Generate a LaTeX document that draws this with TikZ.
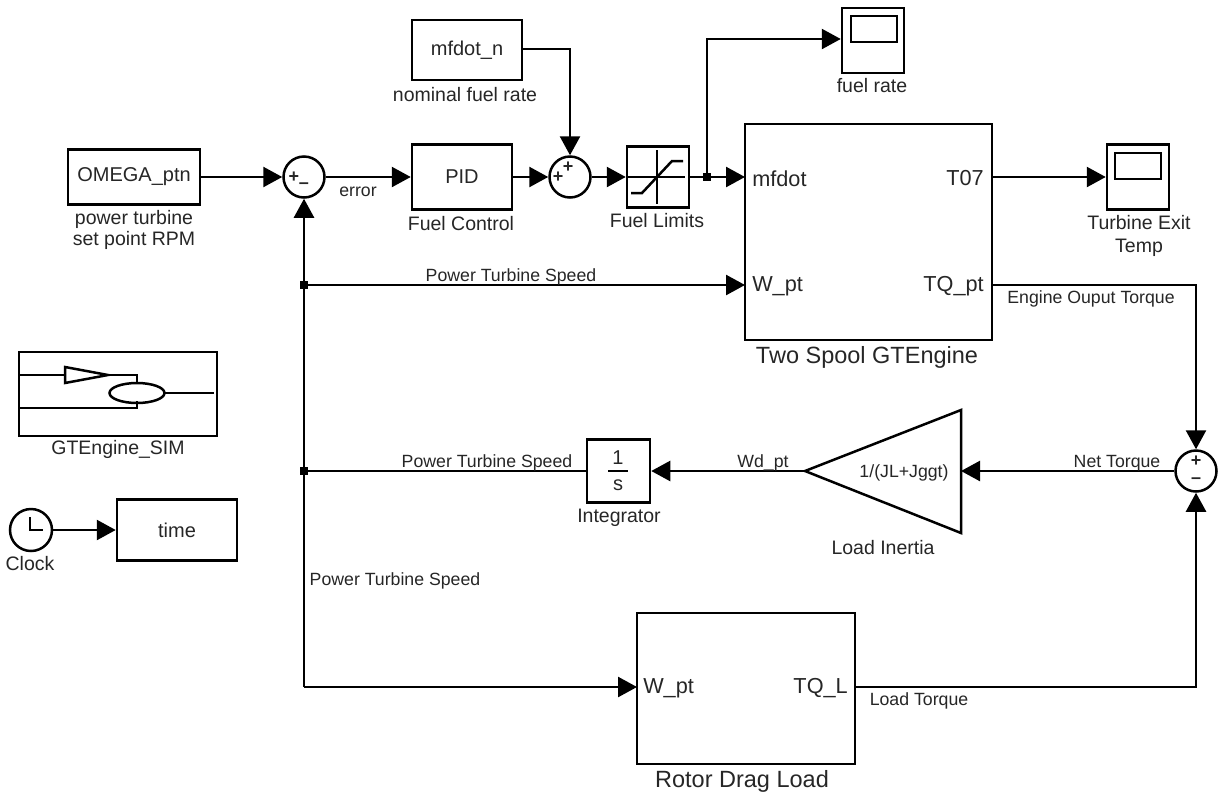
\documentclass[tikz,border=0pt]{standalone}
\usepackage{fontspec}
\setmainfont{Liberation Sans}
\usetikzlibrary{arrows.meta}

\begin{document}
\begin{tikzpicture}[x=1pt, y=-1pt, line width=2.5pt, text=black!85,
	block/.style={draw, inner sep=0pt, font=\fontsize{20}{24}\selectfont},
	sumblock/.style={draw, circle, inner sep=0pt, minimum size=41pt, fill=white},
	dotjoin/.style={fill, rectangle, inner sep=0pt, minimum size=8pt},
	captext/.style={align=center, inner sep=0pt, font=\fontsize{19.5}{21}\selectfont},
	porttext/.style={inner sep=0pt, yshift=-1.5pt, font=\fontsize{21.7}{24}\selectfont},
	bigcap/.style={align=center, inner sep=0pt, yshift=-2pt, font=\fontsize{23.5}{26}\selectfont},
	sigtext/.style={inner sep=0pt, yshift=-2pt, font=\fontsize{17.7}{20}\selectfont},
	signtext/.style={inner sep=0pt, font=\fontsize{18}{18}\selectfont\bfseries},
	wire/.style={-{Triangle[length=19pt, width=20pt]}}]
	\useasboundingbox (0, 0) rectangle (1225, 793);
	% Blocks:
	\node[block, minimum width=132pt, minimum height=55pt] (omega) at (134, 177) {OMEGA\_ptn};
	\node[sumblock] (sumerror) at (304, 177) {};
	\node[block, minimum width=100pt, minimum height=65pt] (pid) at (462, 177) {PID};
	\node[block, minimum width=110pt, minimum height=60pt] (mfdotn) at (467, 50) {mfdot\_n};
	\node[sumblock] (sumfuel) at (570, 177) {};
	\node[block, minimum width=62pt, minimum height=61pt] (limits) at (658, 177) {};
	\node[block, minimum width=62pt, minimum height=65pt] (scopefuel) at (873, 40.5) {};
	\node[block, minimum width=62pt, minimum height=65pt] (scopetemp) at (1138, 177) {};
	\node[block, minimum width=247pt, minimum height=216pt] (engine) at (868.5, 232) {};
	\node[sumblock] (sumtorque) at (1196, 471) {};
	\node[block, minimum width=63pt, minimum height=63pt] (integrator) at (618.5, 471) {};
	\node[block, minimum width=218pt, minimum height=151pt] (rotor) at (746, 688.5) {};
	\node[block, minimum width=198pt, minimum height=84pt] (sim) at (118, 394) {};
	\node[block, circle, minimum size=42pt] (clock) at (31, 530) {};
	\node[block, minimum width=120pt, minimum height=61pt] (timeout) at (177, 530) {time};
	% Scope screens, saturation and other icons:
	\draw (851, 16) rectangle (897, 42);
	\draw (1115, 153) rectangle (1161, 179);
	\draw (628, 177) -- (685, 177);
	\draw (657, 150) -- (657, 204);
	\draw (631, 193) -- (642, 193) -- (672, 161) -- (683, 161);
	\draw (30, 517) -- (30, 530) -- (43, 530);
	\draw (19, 375) -- (65, 375);
	\draw[line join=miter] (65, 367) -- (108, 375) -- (65, 383) -- cycle;
	\draw (108, 375) -- (137, 375) -- (137, 383);
	\draw (137, 393) ellipse (27.5pt and 10pt);
	\draw (165, 393) -- (214, 393);
	\draw (19, 408) -- (137, 408) -- (137, 401);
	\coordinate (gainin) at (961, 471);
	\coordinate (gainout) at (805, 471);
	\draw[line join=miter] (gainout) -- (961, 410) -- (961, 533) -- cycle;
	% Ports:
	\coordinate (enginefuel) at (745, 177);
	\coordinate (enginespeed) at (745, 285);
	\coordinate (enginetemp) at (992, 177);
	\coordinate (enginetorque) at (992, 285);
	\coordinate (rotorspeed) at (637, 687);
	\coordinate (rotortorque) at (855, 687);
	\coordinate (mfdotout) at (522, 49);
	\node[dotjoin] (joinfuel) at (707, 177) {};
	\node[dotjoin] (joinspeed) at (304, 285) {};
	\node[dotjoin] (joinint) at (304, 471) {};
	\coordinate (fuelbend) at (707, 39);
	\coordinate (torquebend) at (1196, 285);
	\coordinate (dragbend) at (1196, 687);
	\coordinate (speedbend) at (304, 687);
	% Wires:
	\draw[wire] (omega.east) -- (sumerror.west);
	\draw[wire] (sumerror.east) -- (pid.west);
	\draw[wire] (pid.east) -- (sumfuel.west);
	\draw[wire] (sumfuel.east) -- (limits.west);
	\draw[wire] (limits.east) -- (enginefuel);
	\draw[wire] (mfdotout) -| (sumfuel.north);
	\draw[wire] (joinfuel.center) -- (fuelbend) -- (scopefuel.west |- fuelbend);
	\draw[wire] (enginetemp) -- (scopetemp.west);
	\draw[wire] (joinspeed.center) -- (enginespeed);
	\draw[wire] (enginetorque) -- (torquebend) -- (sumtorque.north);
	\draw[wire] (sumtorque.west) -- (gainin);
	\draw[wire] (gainout) -- (integrator.east);
	\draw (integrator.west) -- (joinint.center);
	\draw[wire] (speedbend) -- (sumerror.south);
	\draw[wire] (speedbend) -- (rotorspeed);
	\draw[wire] (rotortorque) -- (dragbend) -- (sumtorque.south);
	\draw[wire] (clock.east) -- (timeout.west);
	% Texts:
	\node[signtext] (pluserror) at (294, 177) {+};
	\node[signtext] (minuserror) at (304, 186) {--};
	\node[signtext] (plusfuela) at (558, 177) {+};
	\node[signtext] (plusfuelb) at (568, 167) {+};
	\node[signtext] (plustorque) at (1196, 461) {+};
	\node[signtext] (minustorque) at (1196, 481) {--};
	\node[block, draw=none] (intone) at (618, 458) {1};
	\node[block, draw=none] (ints) at (618, 485) {s};
	\draw[line width=2pt] (608, 471) -- (628, 471);
	\node[sigtext] (gaintext) at (904, 471) {1/(JL+Jggt)};
	\node[porttext, anchor=west] (mfdottext) at (751, 177) {mfdot};
	\node[porttext, anchor=west] (wpttext) at (751, 285) {W\_pt};
	\node[porttext, anchor=east] (t07text) at (985, 177) {T07};
	\node[porttext, anchor=east] (tqpttext) at (985, 285) {TQ\_pt};
	\node[porttext, anchor=west] (wptdrag) at (642, 687) {W\_pt};
	\node[porttext, anchor=east] (tqltext) at (849, 687) {TQ\_L};
	\node[captext] (omegacap) at (134, 230) {power turbine\\set point RPM};
	\node[captext] (pidcap) at (461, 224) {Fuel Control};
	\node[captext] (limitscap) at (657, 221) {Fuel Limits};
	\node[captext] (mfdotcap) at (465, 95) {nominal fuel rate};
	\node[captext] (fuelcap) at (872, 86) {fuel rate};
	\node[captext] (tempcap) at (1139, 236) {Turbine Exit\\[2pt]Temp};
	\node[bigcap] (enginecap) at (867, 355) {Two Spool GTEngine};
	\node[captext] (simcap) at (118, 449) {GTEngine\_SIM};
	\node[captext] (clockcap) at (30, 564) {Clock};
	\node[captext] (intcap) at (619, 518) {Integrator};
	\node[captext] (gaincap) at (883, 548) {Load Inertia};
	\node[bigcap] (rotorcap) at (742, 779) {Rotor Drag Load};
	\node[sigtext] (errortext) at (358, 190) {error};
	\node[sigtext] (speedtop) at (511, 275) {Power Turbine Speed};
	\node[sigtext] (speedmid) at (487, 461) {Power Turbine Speed};
	\node[sigtext] (speedlow) at (395, 579) {Power Turbine Speed};
	\node[sigtext] (wdpttext) at (763, 461) {Wd\_pt};
	\node[sigtext] (nettext) at (1117, 461) {Net Torque};
	\node[sigtext] (ouputtext) at (1091, 297) {Engine Ouput Torque};
	\node[sigtext] (loadtext) at (919, 699) {Load Torque};
\end{tikzpicture}
\end{document}
